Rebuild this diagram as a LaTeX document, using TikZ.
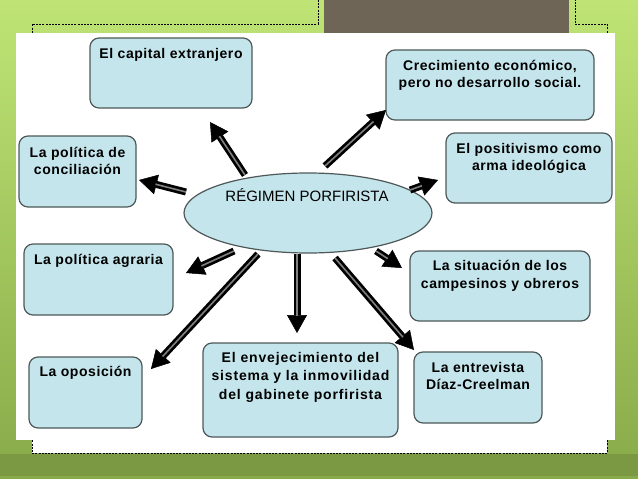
\documentclass[tikz,border=0pt]{standalone}
\usepackage{fontspec}
\setmainfont{Liberation Sans}
\newfontfamily\boxfont[LetterSpace=4]{Liberation Sans}
\usetikzlibrary{arrows.meta,shapes.geometric}
\definecolor{bgtop}{HTML}{BFE475}
\definecolor{bgbot}{HTML}{88AA49}
\definecolor{brownbar}{HTML}{6F6557}
\definecolor{boxfill}{HTML}{C3E5EB}
\definecolor{boxline}{HTML}{4E5859}
\tikzset{
  box/.style={draw=boxline, line width=1.2pt, rounded corners=9pt, fill=boxfill, inner sep=0pt},
  lbl/.style={font=\boxfont\bfseries\fontsize{14}{17.5}\selectfont, align=center, inner sep=0pt, anchor=north, text=black},
  arr/.style={line width=7pt, draw=black, -{Triangle[length=18pt,width=20pt,line width=0.5pt]},
    postaction={draw=black!50, line width=1.6pt, -, shorten >=17pt}},
}
\begin{document}
\begin{tikzpicture}[x=1pt,y=-1pt]
\useasboundingbox (0,0) rectangle (638,479);
% background
\shade[top color=bgtop, bottom color=bgbot] (0,0) rectangle (638,479);
\fill[bgbot!90!black] (0,454) rectangle (638,476);
\fill[white] (32,33) rectangle (607,453);
\draw[line width=0.8pt, dash pattern=on 2pt off 1.2pt] (318,0) -- (318,24) -- (32,24) -- (32,453) -- (607,453) -- (607,24) -- (575,24) -- (575,0);
\fill[white] (16,33) rectangle (615,440);
\fill[brownbar] (324,0) rectangle (569,33);

% boxes
\node[box, minimum width=162pt, minimum height=70pt] (cap) at (171,73) {};
\node[box, minimum width=117pt, minimum height=71pt] (conc) at (77.5,171.5) {};
\node[box, minimum width=208pt, minimum height=70pt] (crec) at (490,85) {};
\node[box, minimum width=166pt, minimum height=70pt] (posit) at (529,168) {};
\node[box, minimum width=149pt, minimum height=71pt] (agr) at (98.5,279.5) {};
\node[box, minimum width=113pt, minimum height=71pt] (opos) at (85.5,392.5) {};
\node[box, minimum width=195pt, minimum height=94pt] (env) at (300.5,390) {};
\node[box, minimum width=180pt, minimum height=70pt] (sit) at (500,286) {};
\node[box, minimum width=128pt, minimum height=71pt] (entr) at (478,387.5) {};

% labels
\node[lbl] (capt) at (171,44) {\rule{0pt}{14pt}El capital extranjero};
\node[lbl] (conct) at (77.5,143) {\rule{0pt}{14pt}La política de\\ conciliación};
\node[lbl] (crect) at (490,56) {\rule{0pt}{14pt}Crecimiento económico,\\pero no desarrollo social.};
\node[lbl] (positt) at (529,139) {\rule{0pt}{14pt}El positivismo como\\ arma ideológica};
\node[lbl] (agrt) at (98.5,250) {\rule{0pt}{14pt}La política agraria};
\node[lbl] (oposT) at (85.5,362) {\rule{0pt}{14pt}La oposición};
\node[lbl, font=\boxfont\bfseries\fontsize{14}{18.5}\selectfont\addfontfeatures{LetterSpace=6}] (envt) at (300.5,348) {\rule{0pt}{14pt}El envejecimiento del\\sistema y la inmovilidad\\ del gabinete porfirista};
\node[lbl] (sitt) at (500,256.5) {\rule{0pt}{14pt}La situación de los\\campesinos y obreros};
\node[lbl] (entrt) at (478,358) {\rule{0pt}{14pt}La entrevista\\Díaz-Creelman};

% central ellipse
\node[ellipse, draw=boxline, line width=1.2pt, fill=boxfill, minimum width=248pt, minimum height=80pt, inner sep=0pt] (reg) at (308,213) {};
\node[font=\fontsize{15}{17}\selectfont, anchor=base, inner sep=0pt, text=black] (regt) at (307,201) {RÉGIMEN PORFIRISTA};

% arrow end points
\coordinate (a1) at (245,175); \coordinate (a2) at (210,122);
\coordinate (b1) at (186,192); \coordinate (b2) at (139,180);
\coordinate (c1) at (325,166); \coordinate (c2) at (386,110);
\coordinate (d1) at (410,190); \coordinate (d2) at (438,180);
\coordinate (e1) at (234,251); \coordinate (e2) at (186,273);
\coordinate (f1) at (258,254); \coordinate (f2) at (151,369);
\coordinate (g1) at (297,254); \coordinate (g2) at (297,333);
\coordinate (h1) at (376,251); \coordinate (h2) at (402,268);
\coordinate (i1) at (335,258); \coordinate (i2) at (414,350);

\draw[arr] (a1) -- (a2);
\draw[arr] (b1) -- (b2);
\draw[arr] (c1) -- (c2);
\draw[arr] (d1) -- (d2);
\draw[arr] (e1) -- (e2);
\draw[arr] (f1) -- (f2);
\draw[arr] (g1) -- (g2);
\draw[arr] (h1) -- (h2);
\draw[arr] (i1) -- (i2);
\end{tikzpicture}
\end{document}
